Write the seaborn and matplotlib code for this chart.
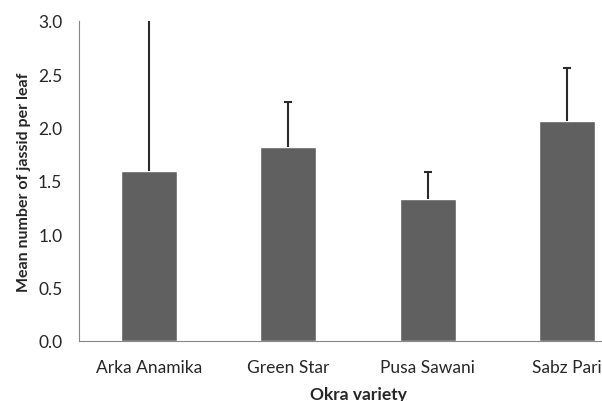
import matplotlib.pyplot as plt
import pandas as pd
import seaborn as sns
from matplotlib.ticker import FixedLocator, FormatStrFormatter

# values
varieties = ["Arka Anamika", "Green Star", "Pusa Sawani", "Sabz Pari"]
mean_jassid = [1.59, 1.815, 1.33, 2.065]
upper_err = [1.6, 0.43, 0.255, 0.49]

df = pd.DataFrame({"variety": varieties, "mean": mean_jassid, "err": upper_err})
df["top"] = df["mean"] + df["err"]

sns.set_style("white")
plt.rcParams["font.family"] = ["Lato", "DejaVu Sans"]

fig = plt.figure(figsize=(6.02, 4.02), dpi=100)
# the plot area runs past the right edge of the figure, like the original
ax = fig.add_axes([79 / 602, 60 / 402, 558 / 602, 320 / 402])

sns.barplot(
    data=df, x="variety", y="mean", color="#606060", saturation=1,
    width=0.4, errorbar=None, ax=ax,
)

# upper-only error bars: stem plus a cap at the top
xpos = range(len(df))
ax.vlines(xpos, df["mean"], df["top"], color="#2a2a2a", lw=1.5)
ax.plot(xpos, df["top"], ls="none", marker="_", ms=6, mew=1.5, color="#2a2a2a")

ax.set_xlim(-0.5, len(df) - 0.5)
ax.set_ylim(0, 3.0)
ax.set_yticks([0, 0.5, 1.0, 1.5, 2.0, 2.5, 3.0])
ax.yaxis.set_major_formatter(FormatStrFormatter("%.1f"))

# category separators as minor ticks
ax.xaxis.set_minor_locator(FixedLocator([0.5, 1.5, 2.5]))
ax.tick_params(axis="x", which="major", length=0, pad=13, labelsize=12.5, labelcolor="#262626")
ax.tick_params(axis="x", which="minor", length=5, width=0.8, color="#868686", direction="out")
ax.tick_params(axis="y", length=5, width=0.8, color="#868686", direction="out",
               pad=7, labelsize=12.5, labelcolor="#262626")

for side in ["top", "right"]:
    ax.spines[side].set_visible(False)
for side in ["left", "bottom"]:
    ax.spines[side].set_color("#868686")
    ax.spines[side].set_linewidth(0.8)

ax.set_xlabel("Okra variety", fontsize=12.5, fontweight="bold", labelpad=8)
ax.set_ylabel("Mean number of jassid per leaf", fontsize=11.5, fontweight="bold", labelpad=5)

fig.savefig("out.png", dpi=100)
